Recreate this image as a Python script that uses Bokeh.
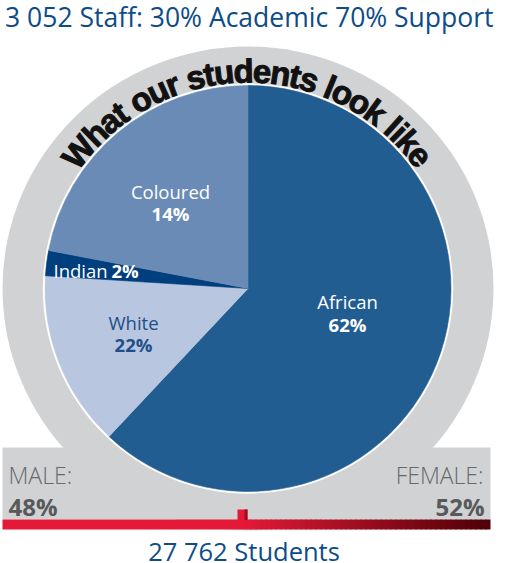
import numpy as np
from bokeh.plotting import figure
from bokeh.models import ColumnDataSource, Range1d
from bokeh.core.properties import value
from bokeh.embed import file_html
from bokeh.resources import INLINE

# ---------------- data ----------------
groups = ["African", "White", "Indian", "Coloured"]
printed_pct = [62, 22, 2, 14]      # percentages as printed on the slices
drawn_share = [62, 14, 2, 22]      # slice sizes as drawn in the picture
title_text = "3 052 Staff: 30% Academic 70% Support"
footer_text = "27 762 Students"
ring_text = "What our students look like"
gender = ["MALE:", "FEMALE:"]
gender_pct = [48, 52]

# ---------------- style / layout ----------------
W, H = 506, 563
CX, CY = 247.5, 288.0          # pie centre (picture pixels, y down)
R_PIE = 203.0
GRAY = "#d1d2d4"
BLUE_TXT = "#0d4c87"
slice_colors = ["#215d90", "#b9c6df", "#003f7d", "#6b8bb7"]
label_colors = ["white", "#1d4f8a", "white", "white"]
FONT = "Open Sans"
K = 0.32                        # text baseline compensation (fraction of font size)


def Y(y):
    return H - y


def ty(baseline, fs):
    """data y for a text whose baseline should sit at picture row `baseline`"""
    return Y(baseline - K * fs)


p = figure(width=W, height=H, x_range=Range1d(0, W), y_range=Range1d(0, H),
           output_backend="svg", toolbar_location=None, min_border=0,
           x_axis_location=None, y_axis_location=None)
p.grid.visible = False
p.outline_line_color = None
p.background_fill_color = "white"
p.border_fill_color = "white"

# outer gray ring
p.ellipse(x=[CX], y=[Y(CY)], width=[491], height=[484], fill_color=GRAY, line_color=None)
# gray band at the bottom
p.quad(left=[2], right=[490], top=[Y(447)], bottom=[Y(519)], fill_color=GRAY, line_color=None)
# white border around pie
p.ellipse(x=[CX], y=[Y(CY)], width=[2 * (R_PIE + 2.2)], height=[2 * (R_PIE + 2.2)],
          fill_color="white", line_color=None)

# pie
shares = np.array(drawn_share, dtype=float) / sum(drawn_share)
cum = np.concatenate([[0.0], np.cumsum(shares)])
start = np.pi / 2 - cum[:-1] * 2 * np.pi
end = np.pi / 2 - cum[1:] * 2 * np.pi
src = ColumnDataSource(dict(start=start, end=end, color=slice_colors, group=groups))
p.wedge(x=CX, y=Y(CY), radius=R_PIE, start_angle="start", end_angle="end",
        direction="clock", fill_color="color", line_color="color", line_width=0.6, source=src)

# slice labels (name line + bold percentage line)
LFS = 18.5
label_pos = {"African": (347, 307, 330), "White": (133, 328, 350), "Coloured": (170, 196.5, 219)}
for g, pct, col in zip(groups, printed_pct, label_colors):
    if g in label_pos:
        lx, ly1, ly2 = label_pos[g]
        p.text(x=[lx], y=[ty(ly1, LFS)], text=[g], text_align="center", text_baseline="alphabetic",
               text_font=value(FONT), text_font_size=f"{LFS}px", text_color=col)
        p.text(x=[lx], y=[ty(ly2, LFS)], text=[f"{pct}%"], text_align="center", text_baseline="alphabetic",
               text_font=value(FONT), text_font_size=f"{LFS}px", text_font_style="bold", text_color=col)
    else:
        p.text(x=[53], y=[ty(276, LFS)], text=[g], text_align="left", text_baseline="alphabetic",
               text_font=value(FONT), text_font_size=f"{LFS}px", text_color=col)
        p.text(x=[111], y=[ty(276, LFS)], text=[f"{pct}%"], text_align="left", text_baseline="alphabetic",
               text_font=value(FONT), text_font_size=f"{LFS}px", text_font_style="bold", text_color=col)

# curved text along the ring (Liberation Sans Bold advance widths, per 1000 em)
adv = {"W": 944, "h": 611, "a": 556, "t": 333, " ": 278, "o": 611, "u": 611, "r": 389,
       "s": 556, "d": 611, "e": 556, "n": 611, "l": 278, "k": 556, "i": 278}
FS = 33.0
TRACK = 0.92
R_BASE = 207.0
R_ANCH = R_BASE + K * FS
widths = np.array([adv[c] for c in ring_text]) * FS * TRACK / 1000.0
lefts = np.concatenate([[0.0], np.cumsum(widths)[:-1]])
total = widths.sum()
theta0 = np.pi / 2 + 0.004 + total / (2 * R_BASE)
theta = theta0 - (lefts + widths / 2) / R_BASE
csrc = ColumnDataSource(dict(x=CX + R_ANCH * np.cos(theta),
                             y=Y(CY) + R_ANCH * np.sin(theta),
                             ang=theta - np.pi / 2,
                             t=list(ring_text)))
p.text(x="x", y="y", text="t", angle="ang", source=csrc, text_align="center",
       text_baseline="alphabetic", text_font=value("Liberation Sans"), text_font_style="bold",
       text_font_size=f"{FS}px", text_color="#111111",
       text_outline_color="#111111")

# red bar with gradient to dark maroon on the right half
c0 = np.array([0xe3, 0x19, 0x37], dtype=float)
c1 = np.array([0x4e, 0x00, 0x06], dtype=float)
xs = np.linspace(245, 490, 50)
lefts_b = [2.0] + list(xs[:-1])
rights_b = [246.0] + [min(v + 1.0, 490.0) for v in xs[1:]]
cols_b = ["#e31937"]
for k in range(len(xs) - 1):
    f = (k + 0.5) / (len(xs) - 1)
    c = c0 + (c1 - c0) * f
    cols_b.append("#%02x%02x%02x" % tuple(int(round(v)) for v in c))
p.quad(left=lefts_b, right=rights_b, top=[Y(519)] * len(cols_b), bottom=[Y(529)] * len(cols_b),
       fill_color=cols_b, line_color=None)
# small tick at the split
p.quad(left=[237], right=[247], top=[Y(509)], bottom=[Y(519.5)], fill_color="#e31937", line_color=None)
p.quad(left=[244], right=[247], top=[Y(509)], bottom=[Y(519.5)], fill_color="#9b1020", line_color=None)

# gender labels
light = value("'Open Sans Light', 'Open Sans'")
GFS, PFS = 23, 24
p.text(x=[8], y=[ty(482, GFS)], text=[gender[0]], text_align="left", text_baseline="alphabetic",
       text_font=light, text_font_size=f"{GFS}px", text_color="#68696b")
p.text(x=[483], y=[ty(482, GFS)], text=[gender[1]], text_align="right", text_baseline="alphabetic",
       text_font=light, text_font_size=f"{GFS}px", text_color="#68696b")
p.text(x=[8], y=[ty(514, PFS)], text=[f"{gender_pct[0]}%"], text_align="left", text_baseline="alphabetic",
       text_font=value(FONT), text_font_style="bold", text_font_size=f"{PFS}px", text_color="#58595b")
p.text(x=[484], y=[ty(514, PFS)], text=[f"{gender_pct[1]}%"], text_align="right", text_baseline="alphabetic",
       text_font=value(FONT), text_font_style="bold", text_font_size=f"{PFS}px", text_color="#58595b")

# title and footer
TFS, FFS = 26.5, 25.5
p.text(x=[493], y=[ty(25, TFS)], text=[title_text], text_align="right", text_baseline="alphabetic",
       text_font=value(FONT), text_font_size=f"{TFS}px", text_color=BLUE_TXT)
p.text(x=[243.5], y=[ty(559, FFS)], text=[footer_text], text_align="center", text_baseline="alphabetic",
       text_font=value(FONT), text_font_size=f"{FFS}px", text_color=BLUE_TXT)

open("out.html", "w").write(file_html(p, INLINE))
